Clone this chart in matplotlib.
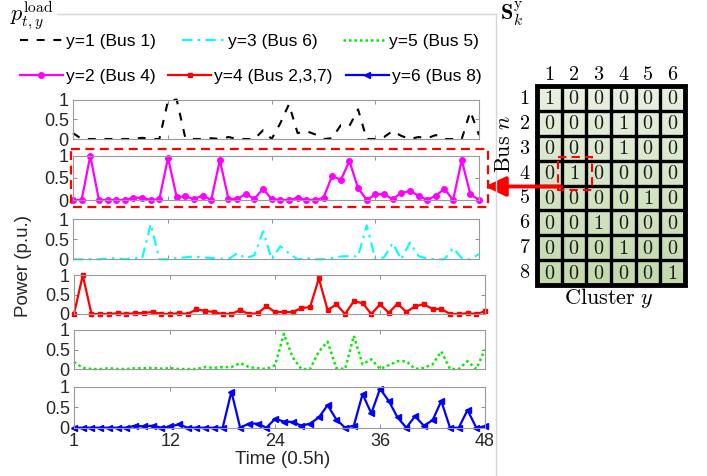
import numpy as np
import matplotlib
matplotlib.use('Agg')
import matplotlib.pyplot as plt
from matplotlib.patches import Rectangle, FancyArrowPatch
from matplotlib.colors import LinearSegmentedColormap

plt.rcParams['font.family'] = ['Liberation Sans', 'DejaVu Sans']
plt.rcParams['mathtext.fontset'] = 'cm'

# ---------------- data ----------------
t = np.arange(1, 49)
y1_bus1 = [0.15, 0, 0, 0, 0, 0, 0, 0, 0.03, 0,
           0, 0.97, 1.0, 0.03, 0, 0, 0.02, 0, 0.05, 0,
           0, 0, 0.22, 0, 0.4, 0.88, 0.15, 0.2, 0.12, 0,
           0.02, 0.35, 0.33, 0.75, 0, 0, 0.05, 0.2, 0.08, 0,
           0.05, 0.02, 0.1, 0, 0, 0, 0.7, 0.1]
y2_bus4 = [0, 0, 1.0, 0, 0, 0, 0, 0.05, 0.05, 0,
           0.02, 0.95, 0.07, 0.08, 0.02, 0.1, 0, 0.9, 0.02, 0.03,
           0.13, 0.03, 0.25, 0.02, 0, 0, 0.05, 0, 0, 0.05,
           0.55, 0.45, 0.88, 0.27, 0, 0.13, 0.13, 0.02, 0.16, 0.2,
           0.1, 0, 0.1, 0.25, 0, 0.9, 0.13, 0]
y3_bus6 = [0, 0, 0, 0, 0.02, 0.03, 0, 0.03, 0.02, 0.88,
           0, 0, 0.03, 0.05, 0.07, 0.05, 0.03, 0.02, 0, 0.15,
           0.03, 0.1, 0.7, 0, 0.33, 0.15, 0, 0.03, 0, 0,
           0.03, 0.07, 0.08, 0.07, 0.85, 0, 0.05, 0.4, 0, 0.42,
           0.08, 0.02, 0, 0, 0.28, 0.03, 0, 0.13]
y4_bus237 = [0, 1.0, 0, 0, 0, 0.02, 0, 0.02, 0.03, 0.05,
             0, 0, 0.02, 0, 0.12, 0.08, 0.05, 0, 0, 0.1,
             0, 0.02, 0.2, 0.05, 0.05, 0.05, 0.15, 0.18, 0.92, 0.1,
             0.25, 0, 0.33, 0.28, 0, 0.25, 0.03, 0.27, 0.05, 0.2,
             0.25, 0.13, 0.13, 0, 0, 0.02, 0, 0.07]
y5_bus5 = [0.18, 0.03, 0, 0, 0.02, 0, 0, 0.02, 0.02, 0.03,
           0.01, 0.02, 0, 0, 0, 0.05, 0.03, 0.05, 0.05, 0.15,
           0.05, 0.02, 0, 0.1, 0.9, 0.3, 0, 0, 0.45, 0.7,
           0.02, 0, 0.85, 0.12, 0.25, 0, 0.1, 0.2, 0.2, 0,
           0.03, 0.12, 0.45, 0, 0, 0.2, 0, 0.5]
y6_bus8 = [0, 0, 0, 0, 0, 0, 0, 0.05, 0.03, 0.05,
           0, 0.03, 0.08, 0, 0, 0, 0, 0, 0.88, 0,
           0.1, 0.1, 0, 0.22, 0.15, 0.14, 0.05, 0.1, 0.25, 0.55,
           0.2, 0, 0.05, 0.82, 0.35, 0.95, 0.65, 0.25, 0, 0.28,
           0.05, 0.18, 0.65, 0, 0, 0.43, 0, 0.03]

labels = ['y=1 (Bus 1)', 'y=2 (Bus 4)', 'y=3 (Bus 6)',
          'y=4 (Bus 2,3,7)', 'y=5 (Bus 5)', 'y=6 (Bus 8)']
xtick_vals = [1, 12, 24, 36, 48]
ytick_vals = [0, 0.5, 1]
ytick_labels = ['0', '0.5', '1']

S = [[1, 0, 0, 0, 0, 0],
     [0, 0, 0, 1, 0, 0],
     [0, 0, 0, 1, 0, 0],
     [0, 1, 0, 0, 0, 0],
     [0, 0, 0, 0, 1, 0],
     [0, 0, 1, 0, 0, 0],
     [0, 0, 0, 1, 0, 0],
     [0, 0, 0, 0, 0, 1]]
highlight = (3, 1)   # Bus 4, Cluster 2

# ---------------- layout ----------------
W, H = 707, 476
fig = plt.figure(figsize=(W / 100, H / 100), dpi=100)


def px_axes(l, tp, r, b, **kw):
    return fig.add_axes([l / W, 1 - b / H, (r - l) / W, (b - tp) / H], **kw)


series = [y1_bus1, y2_bus4, y3_bus6, y4_bus237, y5_bus5, y6_bus8]
styles = [
    dict(color='k', ls=(0, (3.8, 4.2)), lw=1.5),
    dict(color='#ff00ff', ls='-', lw=1.6, marker='o', ms=4),
    dict(color='#00ffff', ls=(0, (5, 2.5, 1.2, 2.5)), lw=1.5),
    dict(color='#ff0000', ls='-', lw=1.6, marker='s', ms=3.5),
    dict(color='#00ee00', ls=(0, (1, 1.2)), lw=1.8),
    dict(color='#0000ff', ls='-', lw=1.6, marker='<', ms=5),
]
# panel order top->bottom: y=1, y=2, y=3, y=4, y=5, y=6
boxes = [(73, 99.5, 479, 139), (73, 155.7, 479, 200), (73, 219.3, 479, 259.3),
         (74, 275.3, 485, 314), (74, 330, 485, 369), (74, 386.7, 485, 427.7)]

handles = []
axes = []
for i, (vals, st, bx) in enumerate(zip(series, styles, boxes)):
    ax = px_axes(*bx)
    ln, = ax.plot(t, vals, clip_on=False, label=labels[i], **st)
    handles.append(ln)
    ax.set_xlim(1, 48)
    ax.set_ylim(0, 1)
    ax.set_xticks(xtick_vals)
    ax.set_yticks(ytick_vals)
    ax.set_yticklabels(ytick_labels)
    ax.tick_params(direction='in', top=True, right=True, length=3, width=0.6,
                   color='#808080', labelsize=13, labelcolor='#262626', pad=3)
    for sp in ax.spines.values():
        sp.set_color('#9a9a9a')
        sp.set_linewidth(0.8)
    if i < 5:
        ax.set_xticklabels([])
    else:
        ax.set_xticklabels([str(v) for v in xtick_vals])
        ax.tick_params(axis='x', pad=4)
    axes.append(ax)

fig.text(24 / W, 1 - 266 / H, 'Power (p.u.)', rotation=90, ha='center',
         va='center', fontsize=13.5, color='#262626')
fig.text(283 / W, 1 - 459 / H, 'Time (0.5h)', ha='center', va='center',
         fontsize=13.5, color='#262626')

# legends (two rows)
common = dict(loc='center left', frameon=False, borderpad=0, borderaxespad=0,
              handlelength=2.47, handletextpad=0.17, fontsize=12.5, ncol=3)
leg1 = fig.legend(handles=[handles[0], handles[2], handles[4]],
                  labels=[labels[0], labels[2], labels[4]],
                  bbox_to_anchor=(20 / W, 1 - 41.7 / H), columnspacing=1.5, **common)
leg2 = fig.legend(handles=[handles[1], handles[3], handles[5]],
                  labels=[labels[1], labels[3], labels[5]],
                  bbox_to_anchor=(20 / W, 1 - 76.7 / H), columnspacing=0.75, **common)

fig.text(10 / W, 1 - 16 / H, r'$p_{t,y}^{\mathrm{load}}$', fontsize=16,
         ha='left', va='center')

# ---------------- matrix ----------------
mx = px_axes(537, 86, 685, 285)
nr, nc = len(S), len(S[0])
mx.set_xlim(0, nc)
mx.set_ylim(nr, 0)
cmap = LinearSegmentedColormap.from_list('g', ['#e9f1e2', '#c2d9ab'])
grad = np.linspace(0, 1, 256).reshape(-1, 1)
mx.imshow(grad, cmap=cmap, extent=(0, nc, nr, 0), aspect='auto', zorder=0)
for k in range(1, nc):
    mx.axvline(k, color='k', lw=2.4)
for k in range(1, nr):
    mx.axhline(k, color='k', lw=2.4)
mx.add_patch(Rectangle((0, 0), nc, nr, fill=False, ec='k', lw=3.5, clip_on=False))
mx.set_xticks([])
mx.set_yticks([])
for sp in mx.spines.values():
    sp.set_visible(False)
for r in range(nr):
    for c in range(nc):
        mx.text(c + 0.5, r + 0.52, '$%d$' % S[r][c], ha='center', va='center',
                fontsize=14.5, color='#1a1a1a')
for c in range(nc):
    mx.text(c + 0.5, -0.45, '$%d$' % (c + 1), ha='center', va='center', fontsize=14.5)
for r in range(nr):
    mx.text(-0.5, r + 0.5, '$%d$' % (r + 1), ha='center', va='center', fontsize=14.5)
hr, hc = highlight
mx.add_patch(Rectangle((hc - 0.15, hr - 0.15), 1.38, 1.33, fill=False,
                       ec='red', lw=1.5, ls=(0, (4, 2.5)), clip_on=False, zorder=5))

fig.text(505 / W, 1 - 144 / H, r'$\mathrm{Bus}\ n$', rotation=90, ha='center',
         va='center', fontsize=16)
fig.text(609 / W, 1 - 298 / H, r'$\mathrm{Cluster}\ y$', ha='center',
         va='center', fontsize=16)
fig.text(500 / W, 1 - 14 / H, r'$\mathbf{S}_k^{\mathrm{y}}$', ha='left',
         va='center', fontsize=16)

# ---------------- overlay decorations ----------------
ov = fig.add_axes([0, 0, 1, 1])
ov.set_xlim(0, W)
ov.set_ylim(H, 0)
ov.axis('off')
ov.patch.set_alpha(0)
ov.plot([57, 496], [14, 14], color='#d6d6d6', lw=1)
ov.plot([496, 496], [14, H], color='#d6d6d6', lw=1)
ov.add_patch(Rectangle((71, 149.3), 416.5, 57.7, fill=False, ec='red', lw=1.6,
                       ls=(0, (4, 2.5))))
ov.add_patch(FancyArrowPatch((561, 186.5), (485, 186.5),
                             arrowstyle='-|>,head_length=1.25,head_width=0.6',
                             mutation_scale=10, lw=2.8, color='red',
                             shrinkA=0, shrinkB=0))

fig.savefig('out.png', dpi=100)
